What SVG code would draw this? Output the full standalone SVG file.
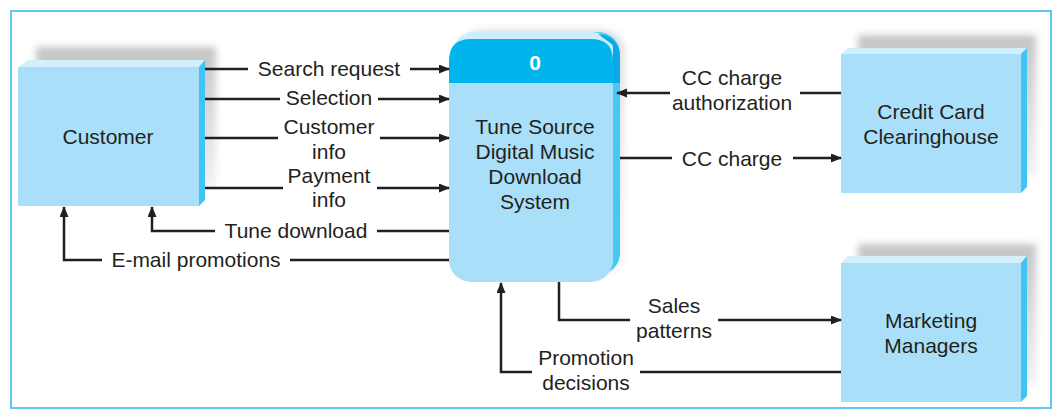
<svg xmlns="http://www.w3.org/2000/svg" width="1057" height="409" viewBox="0 0 1057 409">
<style>
text{font-family:"Liberation Sans",Arial,Helvetica,sans-serif;font-size:21px;fill:#231f20;text-anchor:middle}
.ln{fill:none;stroke:#231f20;stroke-width:2.5}
.front{fill:#a9dff9}
.top{fill:#d2effb}
.side{fill:#3fc5f3}
.shadow{fill:url(#sg);filter:url(#blur)}
</style>
<defs>
<marker id="ah" markerUnits="userSpaceOnUse" markerWidth="11" markerHeight="10" refX="10" refY="4.5" orient="auto">
<path d="M0,0 L11,4.5 L0,9 z" fill="#231f20"/>
</marker>
<linearGradient id="sg" x1="0" y1="0" x2="0" y2="1">
<stop offset="0" stop-color="#c4c4c4"/>
<stop offset="0.5" stop-color="#dcdcdc"/>
<stop offset="1" stop-color="#f2f2f2"/>
</linearGradient>
<filter id="blur" x="-20%" y="-20%" width="140%" height="140%"><feGaussianBlur stdDeviation="3.5"/></filter>
</defs>
<rect x="11" y="11" width="1040" height="397" fill="#fff" stroke="#5ec9f1" stroke-width="2"/>

<g id="customer">
<rect class="shadow" x="36" y="47" width="180" height="140"/>
<polygon class="top" points="18,67 28,60 205,60 199,67"/>
<polygon class="side" points="199,67 205,60 205,200 199,206"/>
<rect class="front" x="18" y="67" width="181" height="139"/>
<text x="108" y="144">Customer</text>
</g>

<g id="process">
<rect class="shadow" x="460" y="30" width="164" height="246" rx="22" style="opacity:0.6"/>
<rect x="456" y="32" width="164" height="243" rx="22" fill="#46c7f4"/>
<rect x="452" y="32" width="162" height="60" rx="22" fill="#cdeefb"/>
<path d="M598,34 Q618,36 620,55 L620,83 L613,83 L613,45 Z" fill="#0aa8e6"/>
<rect class="front" x="449" y="39" width="164" height="243" rx="22"/>
<path d="M449,83 L449,61 Q449,39 471,39 L591,39 Q613,39 613,61 L613,83 Z" fill="#00b5ee"/>
<text x="535" y="70" style="fill:#fff;font-weight:bold">0</text>
<text x="535" y="134">Tune Source</text>
<text x="535" y="159">Digital Music</text>
<text x="535" y="184">Download</text>
<text x="535" y="209">System</text>
</g>

<g id="credit-card">
<rect class="shadow" x="858" y="35" width="178" height="140"/>
<polygon class="top" points="841,54 848,48 1027,48 1021,54"/>
<polygon class="side" points="1021,54 1027,48 1027,187 1021,193"/>
<rect class="front" x="841" y="54" width="180" height="139"/>
<text x="931" y="119">Credit Card</text>
<text x="931" y="144">Clearinghouse</text>
</g>

<g id="marketing">
<rect class="shadow" x="858" y="244" width="178" height="140"/>
<polygon class="top" points="841,263 848,256 1027,256 1021,263"/>
<polygon class="side" points="1021,263 1027,256 1027,396 1021,402"/>
<rect class="front" x="841" y="263" width="180" height="139"/>
<text x="931" y="328">Marketing</text>
<text x="931" y="353">Managers</text>
</g>

<g id="connectors">
<line class="ln" x1="205" y1="69" x2="248" y2="69"/>
<line class="ln" x1="410" y1="69" x2="449" y2="69" marker-end="url(#ah)"/>
<text x="329" y="76">Search request</text>

<line class="ln" x1="205" y1="99" x2="280" y2="99"/>
<line class="ln" x1="378" y1="99" x2="449" y2="99" marker-end="url(#ah)"/>
<text x="329" y="105">Selection</text>

<line class="ln" x1="205" y1="138" x2="278" y2="138"/>
<line class="ln" x1="380" y1="138" x2="449" y2="138" marker-end="url(#ah)"/>
<text x="329" y="134">Customer</text>
<text x="329" y="159">info</text>

<line class="ln" x1="205" y1="188" x2="283" y2="188"/>
<line class="ln" x1="377" y1="188" x2="449" y2="188" marker-end="url(#ah)"/>
<text x="329" y="183">Payment</text>
<text x="329" y="207">info</text>

<line class="ln" x1="449" y1="231" x2="377" y2="231"/>
<polyline class="ln" points="215,231 152,231 152,207" marker-end="url(#ah)"/>
<text x="296" y="238">Tune download</text>

<line class="ln" x1="449" y1="260" x2="290" y2="260"/>
<polyline class="ln" points="102,260 64,260 64,207" marker-end="url(#ah)"/>
<text x="196" y="267">E-mail promotions</text>

<line class="ln" x1="841" y1="93" x2="800" y2="93"/>
<line class="ln" x1="670" y1="93" x2="617" y2="93" marker-end="url(#ah)"/>
<text x="732" y="85">CC charge</text>
<text x="732" y="110">authorization</text>

<line class="ln" x1="620" y1="158" x2="672" y2="158"/>
<line class="ln" x1="793" y1="158" x2="841" y2="158" marker-end="url(#ah)"/>
<text x="732" y="166">CC charge</text>

<polyline class="ln" points="559,282 559,320 630,320"/>
<line class="ln" x1="718" y1="320" x2="841" y2="320" marker-end="url(#ah)"/>
<text x="674" y="313">Sales</text>
<text x="674" y="338">patterns</text>

<line class="ln" x1="841" y1="372" x2="640" y2="372"/>
<polyline class="ln" points="532,372 501,372 501,283" marker-end="url(#ah)"/>
<text x="586" y="365">Promotion</text>
<text x="586" y="390">decisions</text>
</g>
</svg>
